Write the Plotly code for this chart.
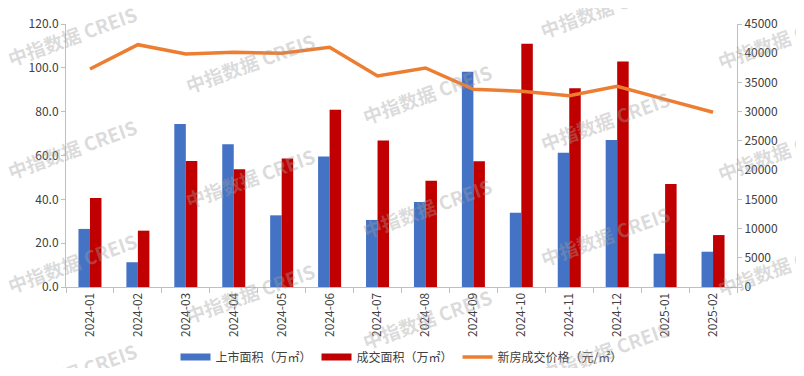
import plotly.graph_objects as go

months = ["2024-01", "2024-02", "2024-03", "2024-04", "2024-05", "2024-06", "2024-07",
          "2024-08", "2024-09", "2024-10", "2024-11", "2024-12", "2025-01", "2025-02"]
listed_area = [26.5, 11.3, 74.4, 65.1, 32.7, 59.6, 30.6, 38.8, 98.2, 33.9, 61.2, 67.1, 15.2, 16.1]
sold_area = [40.6, 25.7, 57.5, 53.7, 58.6, 80.9, 66.8, 48.5, 57.4, 111.0, 90.7, 102.9, 47.0, 23.7]
price = [37300, 41460, 39870, 40150, 39980, 41010, 36100, 37470, 33820, 33480, 32730, 34340, 32100, 29890]

font_family = "Noto Sans CJK SC, Noto Sans, sans-serif"
axis_color = "#bfbfbf"
text_color = "#404040"
blue, red, orange = "#4472C4", "#C00000", "#ED7D31"

fig = go.Figure()
fig.add_trace(go.Bar(x=months, y=listed_area, name="上市面积（万㎡）", marker_color=blue,
                     marker_line_width=0, showlegend=False))
fig.add_trace(go.Bar(x=months, y=sold_area, name="成交面积（万㎡）", marker_color=red,
                     marker_line_width=0, showlegend=False))
fig.add_trace(go.Scatter(x=months, y=price, name="新房成交价格（元/㎡）", mode="lines",
                         line=dict(color=orange, width=3.5), yaxis="y2", showlegend=False))
# legend entries (wide rectangular swatches like the reference)
fig.add_trace(go.Scatter(x=[None], y=[None], mode="lines", name="上市面积（万㎡）",
                         line=dict(color=blue, width=7)))
fig.add_trace(go.Scatter(x=[None], y=[None], mode="lines", name="成交面积（万㎡）",
                         line=dict(color=red, width=7)))
fig.add_trace(go.Scatter(x=[None], y=[None], mode="lines", name="新房成交价格（元/㎡）",
                         line=dict(color=orange, width=3.5)))

# page body has an 8px default margin; size the figure so the plot lands where the reference has it
OFF = 8
W, H = 804 - 2 * OFF, 360
L, T = 66 - OFF, 24 - OFF
pw, ph = 671, 263
R = W - L - pw
B = H - T - ph

# watermark centres (pixel positions in the page)
wm = [(72, 35), (72, 148), (72, 262), (72, 372),
      (250, 62), (250, 177), (250, 292),
      (427, 93), (427, 207), (427, 318),
      (605, 8), (605, 120), (605, 235), (605, 350),
      (782, 38), (782, 150), (782, 265)]
annotations = []
for (px, py) in wm:
    annotations.append(dict(x=(px - 66) / pw, y=1 - (py - 24) / ph, xref="paper", yref="paper",
                            xanchor="center", yanchor="middle",
                            text="<b>中指数据 CREIS</b>", showarrow=False, textangle=-20,
                            font=dict(size=19, color="rgba(160,160,160,0.38)", family=font_family)))

fig.update_layout(
    width=W, height=H,
    margin=dict(l=L, r=R, t=T, b=B, autoexpand=False),
    paper_bgcolor="white", plot_bgcolor="white",
    barmode="group", bargap=0.52, bargroupgap=0,
    font=dict(family=font_family, size=12, color=text_color),
    showlegend=True,
    legend=dict(orientation="h", x=0.5, xanchor="center", y=-0.266, yanchor="middle",
                font=dict(size=12, color=text_color), itemwidth=30, traceorder="normal"),
    xaxis=dict(type="category", showgrid=False, showline=True, linecolor=axis_color,
               ticks="outside", tickson="boundaries", tickcolor=axis_color, ticklen=5,
               tickangle=-90, tickfont=dict(size=12, color=text_color), automargin=False),
    yaxis=dict(range=[0, 120], dtick=20, tickformat=".1f", showgrid=False, showline=True,
               linecolor=axis_color, ticks="outside", tickcolor=axis_color, ticklen=4,
               zeroline=False, tickfont=dict(size=12, color=text_color), automargin=False),
    yaxis2=dict(range=[0, 45000], dtick=5000, overlaying="y", side="right", showgrid=False,
                showline=True, linecolor=axis_color, ticks="outside", tickcolor=axis_color,
                ticklen=4, zeroline=False, tickformat="d", tickfont=dict(size=12, color=text_color),
                automargin=False),
    annotations=annotations,
)

fig.write_html("out.html")
